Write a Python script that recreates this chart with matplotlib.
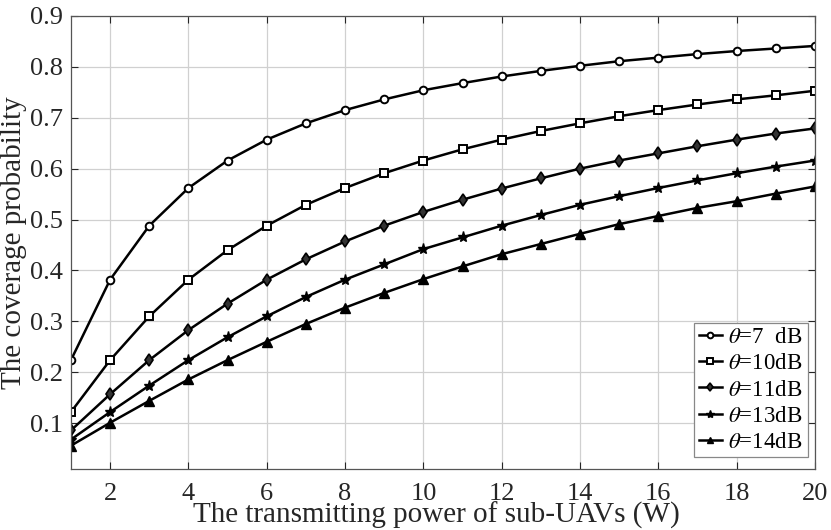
import matplotlib.pyplot as plt

plt.rcParams['font.family'] = ['Liberation Serif', 'DejaVu Serif']
plt.rcParams['mathtext.fontset'] = 'stix'

# transmitting power (W)
power = list(range(1, 21))

# coverage probability for each SINR threshold
cov_7 = [0.224, 0.382, 0.488, 0.562, 0.616, 0.657, 0.689, 0.715, 0.736, 0.754,
         0.768, 0.781, 0.792, 0.802, 0.811, 0.818, 0.825, 0.831, 0.836, 0.841]
cov_10 = [0.122, 0.224, 0.310, 0.382, 0.440, 0.488, 0.529, 0.562, 0.591, 0.616,
          0.638, 0.657, 0.674, 0.689, 0.703, 0.715, 0.726, 0.736, 0.744, 0.753]
cov_11 = [0.086, 0.157, 0.224, 0.283, 0.335, 0.382, 0.422, 0.457, 0.488, 0.515,
          0.539, 0.561, 0.581, 0.600, 0.616, 0.630, 0.644, 0.657, 0.669, 0.679]
cov_13 = [0.068, 0.122, 0.174, 0.224, 0.269, 0.310, 0.348, 0.382, 0.412, 0.442,
          0.465, 0.488, 0.509, 0.529, 0.546, 0.562, 0.577, 0.591, 0.604, 0.616]
cov_14 = [0.056, 0.101, 0.144, 0.186, 0.224, 0.260, 0.295, 0.327, 0.356, 0.383,
          0.408, 0.432, 0.452, 0.472, 0.491, 0.507, 0.523, 0.536, 0.551, 0.565]

labels = [r'$\theta$=7  dB', r'$\theta$=10dB', r'$\theta$=11dB',
          r'$\theta$=13dB', r'$\theta$=14dB']

fig = plt.figure(figsize=(8.31, 5.30), dpi=100)
ax = fig.add_axes([0.0854, 0.115, 0.8953, 0.855])

ax.plot(power, cov_7, '-o', color='black', lw=1.8, ms=5.5, mfc='white', mew=1.4, label=labels[0])
ax.plot(power, cov_10, '-s', color='black', lw=1.8, ms=5.5, mfc='white', mew=1.4, label=labels[1])
ax.plot(power, cov_11, '-d', color='black', lw=1.8, ms=6, mfc='#333333', mew=1.2, label=labels[2])
ax.plot(power, cov_13, '-*', color='black', lw=1.8, ms=8, label=labels[3])
ax.plot(power, cov_14, '-^', color='black', lw=1.8, ms=6.5, label=labels[4])

ax.set_xlim(1, 20)
ax.set_ylim(0.01, 0.9)
ax.set_xticks(range(2, 21, 2))
ax.set_yticks([0.1, 0.2, 0.3, 0.4, 0.5, 0.6, 0.7, 0.8, 0.9])
ax.set_yticklabels(['0.1', '0.2', '0.3', '0.4', '0.5', '0.6', '0.7', '0.8', '0.9'])
ax.grid(True, color='#d0d0d0', lw=0.9)
ax.set_axisbelow(True)
ax.tick_params(direction='in', top=True, right=True, labelsize=19, colors='#262626', length=5, width=0.8)
ax.tick_params(axis='x', pad=10)
ax.tick_params(axis='y', pad=6)
for s in ax.spines.values():
    s.set_color('#555555')
    s.set_linewidth(0.9)

ax.set_xlabel('The transmitting power of sub-UAVs (W)', fontsize=21, color='#262626')
ax.xaxis.set_label_coords(0.4906, -0.071, transform=ax.transAxes)
ax.xaxis.label.set_va('top')
ax.set_ylabel('The coverage probability', fontsize=21, color='#262626', labelpad=2)

leg = ax.legend(loc='lower right', bbox_to_anchor=(0.990, 0.026), fontsize=16.5,
                handlelength=1.0, handletextpad=0.3, markerscale=0.75,
                borderpad=0.2, labelspacing=0.22, fancybox=False, framealpha=1,
                borderaxespad=0)
leg.get_frame().set_edgecolor('#888888')
leg.get_frame().set_linewidth(0.9)

plt.savefig('out.png', dpi=100)
